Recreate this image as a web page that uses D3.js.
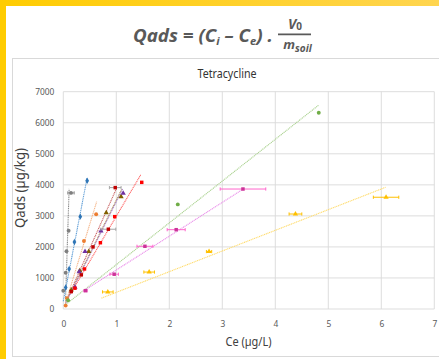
<!DOCTYPE html>
<html>
<head>
<meta charset="utf-8">
<title>Tetracycline</title>
<script src="https://d3js.org/d3.v7.min.js"></script>
<style>
  body { margin: 0; background: #fff; }
  svg text { font-family: "Noto Sans", "Open Sans", sans-serif; }
</style>
</head>
<body>
<svg id="chart" width="439" height="359"></svg>
<script>
// values (Ce in µg/L, Qads in µg/kg)
const xTicks = [0, 1, 2, 3, 4, 5, 6, 7];
const yTicks = [0, 1000, 2000, 3000, 4000, 5000, 6000, 7000];

const seriesNames = ["S1", "S2", "S3", "S4", "S5", "S6", "S7", "S8", "S9", "S10"];
const ceValues = [
  [0.00, 0.045, 0.06, 0.10, 0.145],
  [0.045, 0.11, 0.21, 0.32, 0.45],
  [0.045, 0.07, 0.39, 0.62],
  [0.15, 0.31, 0.48, 0.81, 1.09],
  [0.22, 0.30, 0.41, 0.71, 1.13],
  [0.15, 0.34, 0.56, 0.85, 0.98],
  [0.22, 0.40, 0.70, 0.97, 1.48],
  [0.09, 2.16, 4.82],
  [0.42, 0.96, 1.54, 2.13, 3.39],
  [0.84, 1.62, 2.75, 4.38, 6.09]
];
const qValues = [
  [590, 1170, 1860, 2520, 3740],
  [690, 1290, 2160, 2975, 4130],
  [110, 345, 2190, 3050],
  [610, 1230, 1850, 3100, 3620],
  [700, 1200, 1850, 2510, 3730],
  [560, 1100, 2000, 2570, 3910],
  [670, 1290, 2135, 2975, 4080],
  [280, 3370, 6320],
  [590, 1120, 2020, 2555, 3865],
  [550, 1190, 1850, 3060, 3600]
];
const ceErrors = [
  [0, 0, 0, 0, 0.06],
  [0, 0, 0, 0, 0],
  [0, 0, 0, 0],
  [0, 0, 0, 0, 0],
  [0, 0, 0, 0, 0],
  [0, 0, 0, 0.14, 0.11],
  [0, 0, 0, 0, 0],
  [0, 0, 0],
  [0.03, 0.08, 0.15, 0.17, 0.43],
  [0.10, 0.10, 0.05, 0.12, 0.24]
];
// linear trendlines: start / end points
const trendCe0 = [0.04, 0.00, 0.03, 0.10, 0.05, 0.08, 0.14, 0.05, 0.37, 0.72];
const trendQ0  = [150, 250, 120, 400, 200, 350, 500, 150, 570, 350];
const trendCe1 = [0.11, 0.45, 0.63, 1.10, 1.12, 1.00, 1.46, 4.82, 3.40, 6.08];
const trendQ1  = [3870, 4230, 3460, 3850, 3870, 3870, 4320, 6570, 3870, 3920];

// styles
const markerColors = ["#7F7F7F", "#2E75B6", "#ED7D31", "#806000", "#7030A0", "#C00000", "#FF0000", "#70AD47", "#CC3399", "#FFC000"];
const lineColors   = ["#8C8C8C", "#5B9BD5", "#F4B183", "#B09040", "#A97FD0", "#C86060", "#FF6060", "#A9D18E", "#E98BE9", "#FFDA66"];
const errColors    = ["#8C8C8C", "#5B9BD5", "#F4B183", "#B09040", "#A97FD0", "#A6A6A6", "#FF6060", "#A9D18E", "#FF66CC", "#FFC000"];
const shapes = [d3.symbolCircle, d3.symbolDiamond, d3.symbolCircle, d3.symbolTriangle, d3.symbolTriangle,
                d3.symbolSquare, d3.symbolSquare, d3.symbolCircle, d3.symbolSquare, d3.symbolTriangle];

const svg = d3.select("#chart");

// yellow frame
const defs = svg.append("defs");
const grad = defs.append("linearGradient").attr("id", "topband");
grad.append("stop").attr("offset", "0%").attr("stop-color", "#FFCC00");
grad.append("stop").attr("offset", "100%").attr("stop-color", "#FFD54F");
svg.append("rect").attr("x", 0).attr("y", 0).attr("width", 439).attr("height", 6).attr("fill", "url(#topband)");
svg.append("rect").attr("x", 0).attr("y", 0).attr("width", 6).attr("height", 359).attr("fill", "#FFCC00");

// formula
const fg = svg.append("g").attr("fill", "#595959").attr("font-weight", "bold").attr("font-style", "italic");
const ft = fg.append("text").attr("x", 133).attr("y", 41.5).attr("font-size", 18.5)
  .attr("textLength", 140).attr("lengthAdjust", "spacingAndGlyphs");
ft.append("tspan").text("Qads = (C");
ft.append("tspan").attr("font-size", 11).attr("dy", 3).text("i");
ft.append("tspan").attr("dy", -3).text(" \u2013 C");
ft.append("tspan").attr("font-size", 11).attr("dy", 3).text("e");
ft.append("tspan").attr("dy", -3).text(") .");
fg.append("line").attr("x1", 278).attr("x2", 311).attr("y1", 34.3).attr("y2", 34.3)
  .attr("stroke", "#595959").attr("stroke-width", 1.8);
const fv = fg.append("text").attr("x", 295).attr("y", 28.5).attr("font-size", 14).attr("text-anchor", "middle");
fv.append("tspan").text("V");
fv.append("tspan").attr("font-size", 10).attr("font-style", "normal").attr("dy", 1).text("0");
const fm = fg.append("text").attr("x", 297.5).attr("y", 48.5).attr("font-size", 13).attr("text-anchor", "middle");
fm.append("tspan").text("m");
fm.append("tspan").attr("font-size", 10).attr("dy", 3).text("soil");

// chart area
svg.append("rect").attr("x", 12.5).attr("y", 58.5).attr("width", 440).attr("height", 298)
  .attr("fill", "#fff").attr("stroke", "#D9D9D9");

const margin = {top: 91.7, right: 434.3, bottom: 309, left: 63.3};
const x = d3.scaleLinear().domain([0, 7]).range([margin.left, margin.right]);
const y = d3.scaleLinear().domain([0, 7000]).range([margin.bottom, margin.top]);

// gridlines
svg.append("g").selectAll("line").data(yTicks).join("line")
  .attr("x1", x(0)).attr("x2", x(7)).attr("y1", d => y(d)).attr("y2", d => y(d))
  .attr("stroke", "#D9D9D9").attr("stroke-width", 0.9);
svg.append("g").selectAll("line").data(xTicks).join("line")
  .attr("x1", d => x(d)).attr("x2", d => x(d)).attr("y1", y(0)).attr("y2", y(7000))
  .attr("stroke", "#D9D9D9").attr("stroke-width", 0.9);

// axes
svg.append("g").attr("transform", `translate(${margin.left},0)`)
  .call(d3.axisLeft(y).tickValues(yTicks).tickSize(0).tickPadding(9).tickFormat(d3.format("d")))
  .call(g => g.select(".domain").remove());
svg.append("g").attr("transform", `translate(0,${margin.bottom})`)
  .call(d3.axisBottom(x).tickValues(xTicks).tickSize(0).tickPadding(12).tickFormat(d3.format("d")))
  .call(g => g.select(".domain").remove());
svg.selectAll(".tick text").attr("font-family", "'Noto Sans', sans-serif").attr("font-size", 8.4).attr("fill", "#595959");

// titles
svg.append("text").attr("x", 227).attr("y", 77.5).attr("text-anchor", "middle")
  .attr("font-size", 13).attr("fill", "#333")
  .attr("textLength", 59).attr("lengthAdjust", "spacingAndGlyphs").text("Tetracycline");
svg.append("text").attr("x", 248.5).attr("y", 346).attr("text-anchor", "middle")
  .attr("font-size", 13).attr("fill", "#404040")
  .attr("textLength", 46).attr("lengthAdjust", "spacingAndGlyphs").text("Ce (\u00b5g/L)");
svg.append("text").attr("transform", "translate(24.5,188) rotate(-90)").attr("text-anchor", "middle")
  .attr("font-size", 13.5).attr("fill", "#404040")
  .attr("textLength", 80).attr("lengthAdjust", "spacingAndGlyphs").text("Qads (\u00b5g/kg)");

// series
const series = seriesNames.map((name, i) => ({
  name, i,
  points: ceValues[i].map((ce, j) => ({ce, q: qValues[i][j], err: ceErrors[i][j]}))
}));

const plot = svg.append("g");

// trendlines (round dot)
plot.selectAll(".trend").data(series).join("line").attr("class", "trend")
  .attr("x1", s => x(trendCe0[s.i])).attr("y1", s => y(trendQ0[s.i]))
  .attr("x2", s => x(trendCe1[s.i])).attr("y2", s => y(trendQ1[s.i]))
  .attr("stroke", s => lineColors[s.i]).attr("stroke-width", 1.1)
  .attr("stroke-dasharray", "1.1,0.7");

// error bars and markers
series.forEach(s => {
  const g = plot.append("g");
  const withErr = s.points.filter(p => p.err > 0);
  g.selectAll(".eb").data(withErr).join("line").attr("class", "eb")
    .attr("x1", p => x(p.ce - p.err)).attr("x2", p => x(p.ce + p.err))
    .attr("y1", p => y(p.q)).attr("y2", p => y(p.q))
    .attr("stroke", errColors[s.i]).attr("stroke-width", 1);
  ["lo", "hi"].forEach(side => {
    g.selectAll(".cap" + side).data(withErr).join("line").attr("class", "cap" + side)
      .attr("x1", p => x(side === "lo" ? p.ce - p.err : p.ce + p.err))
      .attr("x2", p => x(side === "lo" ? p.ce - p.err : p.ce + p.err))
      .attr("y1", p => y(p.q) - 1.6).attr("y2", p => y(p.q) + 1.6)
      .attr("stroke", errColors[s.i]).attr("stroke-width", 1);
  });
  g.selectAll("path").data(s.points).join("path")
    .attr("transform", p => `translate(${x(p.ce)},${y(p.q)})`)
    .attr("d", d3.symbol().type(shapes[s.i]).size(12))
    .attr("fill", markerColors[s.i]);
});
</script>
</body>
</html>
